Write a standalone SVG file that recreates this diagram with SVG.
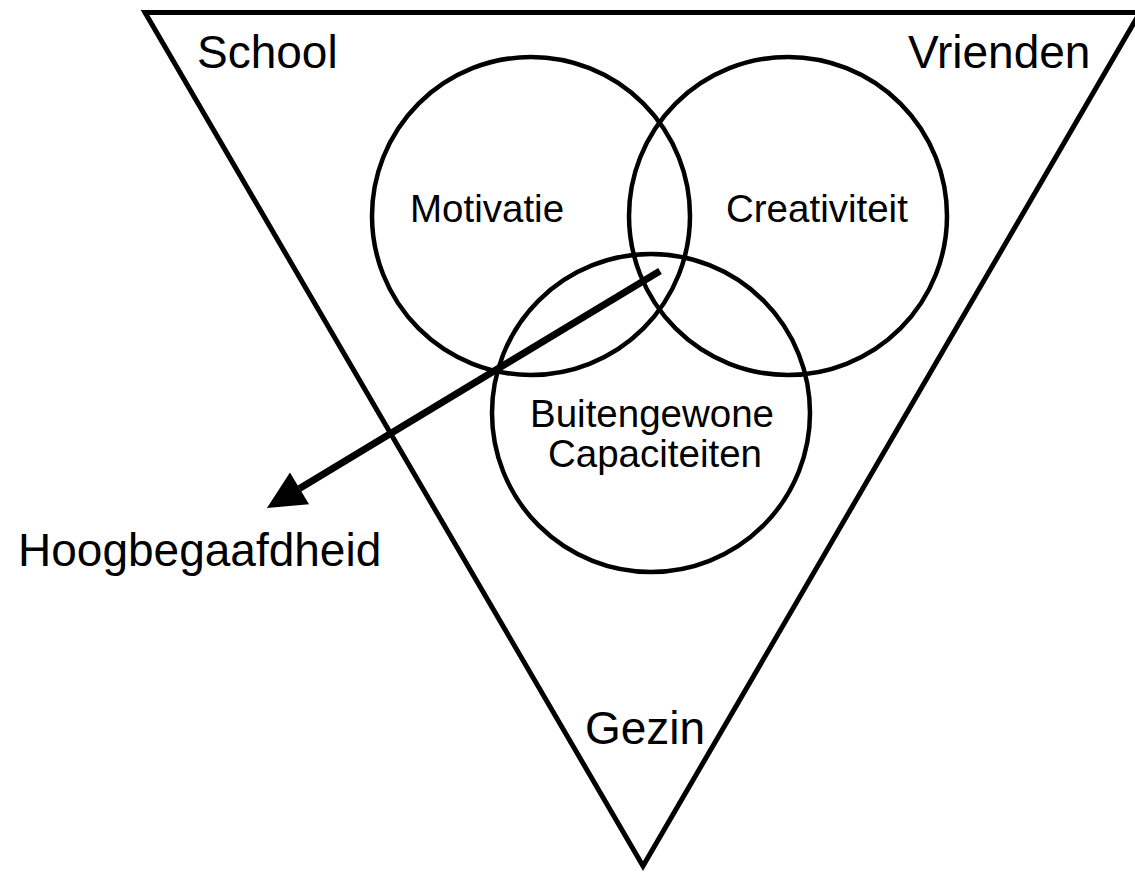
<svg xmlns="http://www.w3.org/2000/svg" width="1135" height="874" viewBox="0 0 1135 874">
  <style>
    .shape { fill: none; stroke: #000; stroke-width: 4.5; }
    .big { font-family: "Liberation Sans", Arial, sans-serif; font-size: 46px; fill: #000; }
    .small { font-family: "Liberation Sans", Arial, sans-serif; font-size: 38.5px; fill: #000; }
    .arrow { fill: none; stroke: #000; stroke-width: 7; }
  </style>
  <defs>
    <marker id="head" markerUnits="userSpaceOnUse" markerWidth="40" markerHeight="40" viewBox="0 -20 40 40" refX="0" refY="0" orient="auto" overflow="visible">
      <path d="M0,-18.5 L38,0 L0,18.5 Z" fill="#000"/>
    </marker>
  </defs>
  <rect x="0" y="0" width="1135" height="874" fill="#fff"/>
  <g id="context">
    <polygon class="shape" points="145,12.5 1140,12.5 643,866" style="stroke-width:5"/>
    <text class="big" x="197" y="68">School</text>
    <text class="big" x="908" y="68">Vrienden</text>
    <text class="big" x="585" y="744">Gezin</text>
  </g>
  <g id="motivatie">
    <circle class="shape" cx="531" cy="216" r="159"/>
    <text class="small" x="410" y="222">Motivatie</text>
  </g>
  <g id="creativiteit">
    <circle class="shape" cx="788" cy="216" r="159"/>
    <text class="small" x="726" y="222">Creativiteit</text>
  </g>
  <g id="capaciteiten">
    <circle class="shape" cx="651" cy="413" r="159"/>
    <text class="small" x="652" y="427" text-anchor="middle">Buitengewone</text>
    <text class="small" x="655" y="467" text-anchor="middle">Capaciteiten</text>
  </g>
  <g id="hoogbegaafdheid">
    <text class="big" x="18" y="566">Hoogbegaafdheid</text>
  </g>
  <g id="connectors">
    <line class="arrow" x1="660" y1="271" x2="299.5" y2="488.4" marker-end="url(#head)"/>
  </g>
</svg>
